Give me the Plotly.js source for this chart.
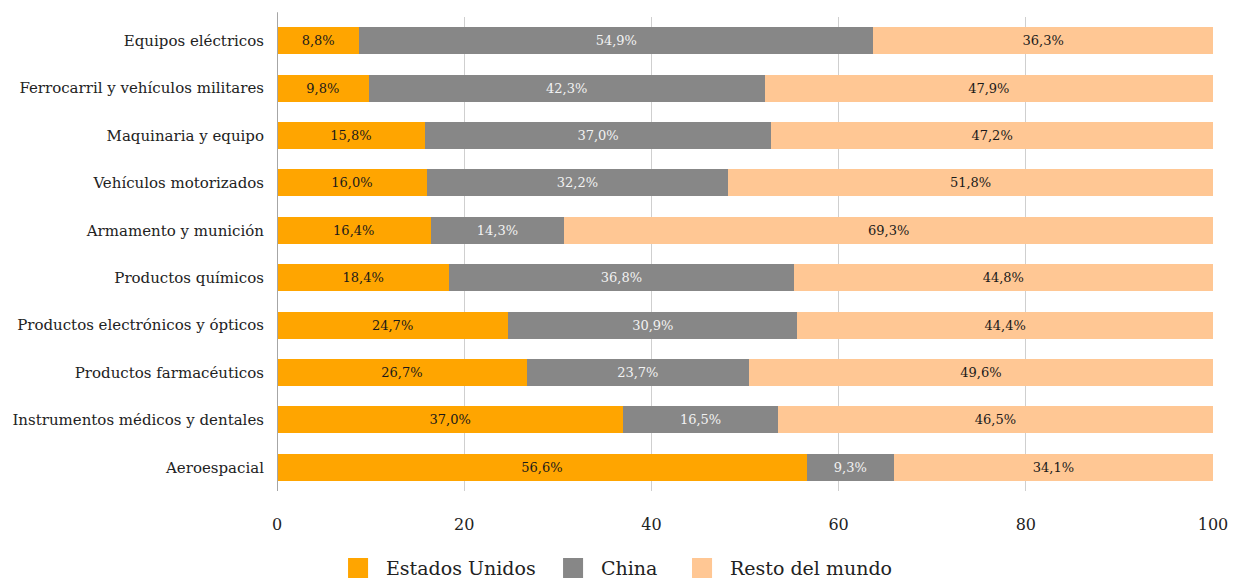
<!DOCTYPE html>
<html>
<head>
<meta charset="utf-8">
<script src="https://cdn.plot.ly/plotly-3.0.1.min.js"></script>
<style>body{margin:0;background:#fff;font-family:"Liberation Serif",serif}#chart{width:1240px;height:581px}</style>
</head>
<body>
<div id="chart"></div>
<script>
const categories = [
  "Equipos eléctricos",
  "Ferrocarril y vehículos militares",
  "Maquinaria y equipo",
  "Vehículos motorizados",
  "Armamento y munición",
  "Productos químicos",
  "Productos electrónicos y ópticos",
  "Productos farmacéuticos",
  "Instrumentos médicos y dentales",
  "Aeroespacial"
];
const estadosUnidos = [8.8, 9.8, 15.8, 16.0, 16.4, 18.4, 24.7, 26.7, 37.0, 56.6];
const china = [54.9, 42.3, 37.0, 32.2, 14.3, 36.8, 30.9, 23.7, 16.5, 9.3];
const restoMundo = [36.3, 47.9, 47.2, 51.8, 69.3, 44.8, 44.4, 49.6, 46.5, 34.1];
const seriesNames = ["Estados Unidos", "China", "Resto del mundo"];
const xTicks = [0, 20, 40, 60, 80, 100];

const FONT = "DejaVu Serif";
const colors = ["#FFA500", "#878787", "#FFC794"];
const textColors = ["#1a1a1a", "#f2f2f2", "#1a1a1a"];
const data = [estadosUnidos, china, restoMundo].map((vals, i) => ({
  type: "bar",
  orientation: "h",
  name: seriesNames[i],
  y: categories,
  x: vals,
  marker: {color: colors[i]},
  texttemplate: "%{x:.1f}%",
  textposition: "inside",
  insidetextanchor: "middle",
  textangle: 0,
  constraintext: "none",
  textfont: {family: FONT, size: 13, color: textColors[i]},
  hoverinfo: "none",
  showlegend: false
}));

// custom legend (large square swatches), positioned in paper coordinates
const legendX = [0.0759, 0.3056, 0.4434];
const shapes = [{
  type: "line", xref: "x", yref: "paper",
  x0: 0, x1: 0, y0: 0, y1: 1.01,
  line: {color: "#a6a6a6", width: 2}
}];
const annotations = [];
seriesNames.forEach((nm, i) => {
  shapes.push({
    type: "rect", xref: "paper", yref: "paper",
    x0: legendX[i], x1: legendX[i] + 0.0214,
    y0: -0.1414, y1: -0.1835,
    fillcolor: colors[i], line: {width: 0}
  });
  annotations.push({
    xref: "paper", yref: "paper",
    x: legendX[i] + 0.0385, y: -0.1625,
    xanchor: "left", yanchor: "middle",
    text: nm, showarrow: false,
    font: {family: FONT, size: 19, color: "#222"}
  });
});

const layout = {
  barmode: "stack",
  bargap: 0.43,
  separators: ",.",
  width: 1240,
  height: 581,
  margin: {l: 277, r: 27, t: 17, b: 90},
  paper_bgcolor: "#fff",
  plot_bgcolor: "#fff",
  font: {family: FONT, size: 16, color: "#222"},
  showlegend: false,
  xaxis: {
    range: [0, 100],
    tickvals: xTicks,
    ticktext: xTicks.map(String),
    showgrid: true,
    gridcolor: "#cfcfcf",
    gridwidth: 1,
    zeroline: false,
    showline: false,
    ticks: "",
    ticklabelstandoff: 22,
    tickfont: {family: FONT, size: 16, color: "#222"},
    fixedrange: true
  },
  yaxis: {
    type: "category",
    autorange: "reversed",
    showgrid: false,
    zeroline: false,
    showline: false,
    ticks: "",
    ticklabelstandoff: 12,
    tickfont: {family: FONT, size: 15, color: "#222"},
    fixedrange: true
  },
  shapes: shapes,
  annotations: annotations
};

Plotly.newPlot("chart", data, layout, {displayModeBar: false, staticPlot: true});
</script>
</body>
</html>
